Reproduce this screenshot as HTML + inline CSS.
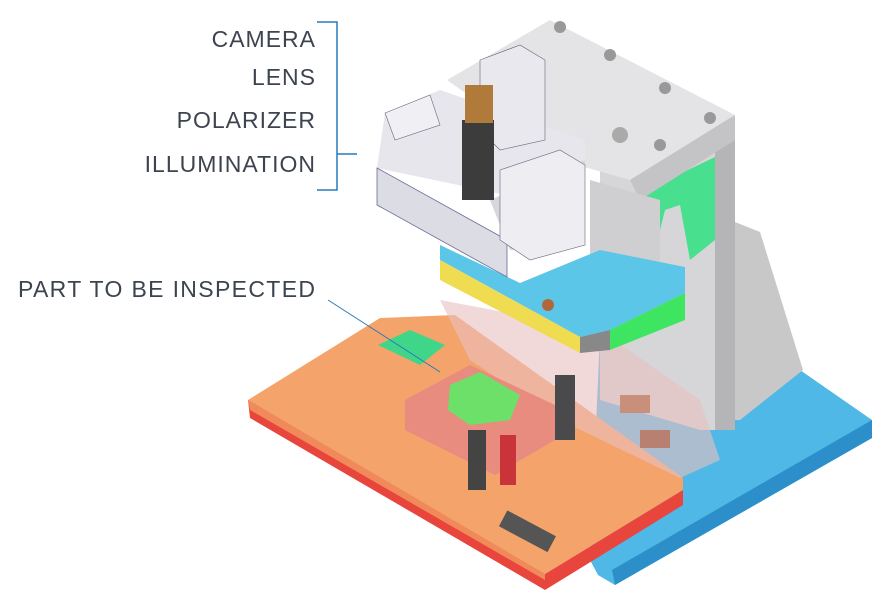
<!DOCTYPE html>
<html><head><meta charset="utf-8"><style>
body{margin:0;background:#fff;}
svg{display:block}
text{font-family:"Liberation Sans",sans-serif;font-size:23px;fill:#3d4450;letter-spacing:1px}
</style></head><body>
<svg width="889" height="601" viewBox="0 0 889 601" xmlns="http://www.w3.org/2000/svg">
<rect width="889" height="601" fill="#fff"/>
<!-- labels -->
<text x="316" y="47" text-anchor="end">CAMERA</text>
<text x="316" y="85" text-anchor="end">LENS</text>
<text x="316" y="128" text-anchor="end">POLARIZER</text>
<text x="316" y="172" text-anchor="end">ILLUMINATION</text>
<text x="18" y="297" textLength="298">PART TO BE INSPECTED</text>
<polyline points="317,22 337,22 337,190 317,190" fill="none" stroke="#2a7ab8" stroke-width="1.5"/>
<line x1="337" y1="154" x2="357" y2="154" stroke="#2a7ab8" stroke-width="1.5"/>

<!-- blue base -->
<polygon points="600,335 800,370 872,420 872,438 615,585 598,575 590,560" fill="#4fb8e6"/>
<polygon points="872,420 872,438 615,585 612,570" fill="#2c8fc9"/>
<!-- right triangle support -->
<polygon points="735,222 760,232 803,370 740,420 735,420" fill="#c8c8c8"/>
<!-- column -->
<polygon points="600,160 715,118 735,117 735,430 700,430 600,400" fill="#d6d6d8"/>
<polygon points="715,118 735,117 735,430 715,430" fill="#b5b5b8"/>
<!-- green L -->
<polygon points="640,193 715,157 715,240 690,260 680,205 665,210 660,230 640,220" fill="#48e08e"/>
<!-- top block -->
<polygon points="447,80 550,20 735,115 630,180 560,160" fill="#e4e4e6"/>
<polygon points="630,180 735,115 735,140 640,200" fill="#c4c4c6"/>
<circle cx="560" cy="27" r="6" fill="#999"/><circle cx="610" cy="55" r="6" fill="#999"/><circle cx="665" cy="88" r="6" fill="#999"/><circle cx="710" cy="118" r="6" fill="#999"/><circle cx="660" cy="145" r="6" fill="#999"/><circle cx="620" cy="135" r="8" fill="#aaa"/>
<!-- mid gray block -->
<polygon points="590,180 660,200 660,280 600,300 590,280" fill="#cfcfd2"/>
<!-- orange plate -->
<polygon points="248,400 380,318 455,315 683,478 683,490 545,574" fill="#f4a36a"/>
<polygon points="248,400 545,574 683,490 683,505 545,590 250,418" fill="#e8453c"/>
<polygon points="248,400 545,574 545,580 250,410" fill="#f08a5a"/>
<!-- pinkish haze region -->
<polygon points="440,300 600,330 700,400 720,460 680,478 560,420 470,360" fill="#e9c0c0" opacity="0.6"/>
<!-- fixture block -->
<polygon points="405,400 470,365 555,405 555,440 495,475 405,430" fill="#e88c80"/>
<polygon points="450,385 480,372 520,395 510,420 470,425 448,410" fill="#6de06a"/>
<rect x="468" y="430" width="18" height="60" fill="#444"/>
<rect x="500" y="435" width="16" height="50" fill="#c8343a"/>
<rect x="555" y="375" width="20" height="65" fill="#4a4a4c"/>
<polygon points="378,345 410,330 445,345 420,365" fill="#3fd68a"/>
<rect x="500" y="522" width="55" height="18" transform="rotate(28 527 531)" fill="#555"/>
<rect x="620" y="395" width="30" height="18" fill="#c8907a"/>
<rect x="640" y="430" width="30" height="18" fill="#b88070"/>
<!-- cyan/yellow/green plate -->
<polygon points="440,245 520,283 685,267 685,293 610,330 580,337 440,260" fill="#5cc6e8"/>
<polygon points="440,260 580,337 580,353 440,280" fill="#f0dc50"/>
<polygon points="580,337 610,330 610,350 580,353" fill="#888"/>
<polygon points="610,330 685,293 685,320 610,350" fill="#3ee560"/>
<polygon points="520,283 600,250 685,267 610,300" fill="#5cc6e8"/>
<!-- camera bracket -->
<polygon points="385,113 440,90 585,140 585,175 530,200 377,168" fill="#e6e6ec"/>
<polygon points="377,168 507,240 507,277 377,205" fill="#dcdce4" stroke="#6a6a9a" stroke-width="0.8"/>
<polygon points="490,200 585,160 585,245 510,250" fill="#d6d6dc"/>
<polygon points="480,60 520,45 545,60 545,140 500,150 480,130" fill="#e8e8ee" stroke="#667" stroke-width="0.6"/>
<rect x="462" y="120" width="32" height="80" fill="#3c3c3c"/>
<rect x="465" y="85" width="28" height="38" fill="#b07a3a"/>
<polygon points="500,170 560,150 585,165 585,245 530,260 500,240" fill="#eeeef2" stroke="#667" stroke-width="0.6"/>
<polygon points="385,113 430,95 440,125 395,140" fill="#f0f0f4" stroke="#667" stroke-width="0.6"/>
<circle cx="548" cy="305" r="6" fill="#b0683a"/>
<!-- leader line -->
<line x1="328" y1="300" x2="440" y2="372" stroke="#2a7ab8" stroke-width="1"/>
</svg>
</body></html>
